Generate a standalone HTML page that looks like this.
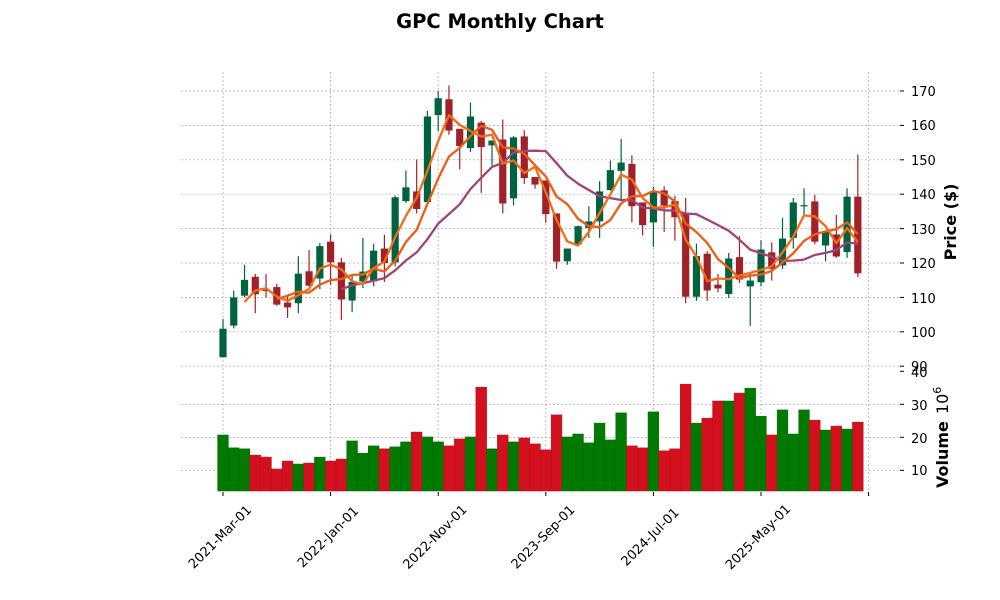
<!DOCTYPE html>
<html><head><meta charset="utf-8"><style>
html,body{margin:0;padding:0;background:#fff;}
svg{display:block;font-family:"DejaVu Sans","Liberation Sans",sans-serif;}
</style></head><body>
<svg id="s" width="1000" height="600" viewBox="0 0 1000 600" xmlns="http://www.w3.org/2000/svg">
<rect width="1000" height="600" fill="#fff"/>
<g id="grid"></g>
<g id="vol"></g>
<g id="cand"></g>
<g id="mav"></g>
<g id="ticks" stroke="#000" stroke-width="1"></g>
<text x="500" y="28" text-anchor="middle" font-size="19.5" font-weight="bold">GPC Monthly Chart</text>
<g font-size="13" fill="#000">
<text x="911" y="96">170</text><text x="911" y="130">160</text><text x="911" y="165">150</text>
<text x="911" y="199">140</text><text x="911" y="234">130</text><text x="911" y="268">120</text>
<text x="911" y="303">110</text><text x="911" y="337">100</text><text x="911" y="371">90</text>
<text x="911" y="377">40</text><text x="911" y="410">30</text><text x="911" y="443">20</text><text x="911" y="475">10</text>
</g>
<text transform="translate(956,222) rotate(-90)" text-anchor="middle" font-size="16" font-weight="bold">Price ($)</text>
<text transform="translate(948,488) rotate(-90)" font-size="16"><tspan font-weight="bold">Volume</tspan><tspan dx="7">10</tspan><tspan dy="-7" font-size="11">6</tspan></text>
<g font-size="13">
<text transform="translate(223,540) rotate(-45)" text-anchor="middle">2021-Mar-01</text>
<text transform="translate(331,540) rotate(-45)" text-anchor="middle">2022-Jan-01</text>
<text transform="translate(438,540) rotate(-45)" text-anchor="middle">2022-Nov-01</text>
<text transform="translate(546,540) rotate(-45)" text-anchor="middle">2023-Sep-01</text>
<text transform="translate(653,540) rotate(-45)" text-anchor="middle">2024-Jul-01</text>
<text transform="translate(761,540) rotate(-45)" text-anchor="middle">2025-May-01</text>
</g>
</svg>
<script>
var D=[[92.6,100.9,103.7,92.6],[101.8,110,112,101],[110.5,115.1,119.5,110],[116,110.9,116.8,105.4],[112.2,112,116.8,110],[113,107.9,113.9,107.6],[108.5,107.1,110.3,104],[108.3,116.9,122,105.4],[117.6,113.4,123.8,113.2],[115.5,124.9,125.8,112.4],[126.2,120.2,128.3,113.7],[120.2,109.4,121.5,103.5],[109.1,114.5,116.8,105.7],[114.6,117.5,127.3,112.7],[114.7,123.6,125.6,113.2],[124.2,120,128.2,114.5],[120.2,139.1,139.6,119],[138,142,146.9,137.5],[140.8,135.7,150.1,134.4],[137.7,162.6,164.2,137.5],[163,167.9,170,158.3],[167.6,158.5,171.6,157.3],[159,154,159,147.2],[153.4,162.6,166.6,152.3],[160.8,153.7,161.3,140.4],[154.2,155.6,155.6,148.3],[155.9,137.3,161.7,134.4],[138.8,156.5,156.9,136.7],[156.8,144.7,158.6,143],[145,142.8,145,141.6],[144,134.2,144,131.7],[134.4,120.4,134.4,118.3],[120.5,124.2,124.2,119.5],[125.4,130.7,130.9,125],[130.2,132.1,136.5,127.3],[132.1,140.8,143.8,127.3],[141.2,147,149.8,141],[146.8,149.2,156.1,138],[148.8,136.5,151.3,131.8],[137.6,131,137.6,128],[131.8,140.9,142.1,124.7],[141.1,136.7,142.3,129],[138,133.3,139.6,126.5],[134.4,110.2,138.9,108.3],[110.2,122,125.6,109],[122.7,112,123.4,109],[113.7,112.6,116.8,111.5],[111,121.3,122.9,109.8],[121.7,115.2,127.8,114.2],[113.2,114.9,117.3,101.7],[114.4,123.9,126.6,113.2],[123.1,118.3,126,114.9],[119.3,127.1,133.1,118.3],[127.3,137.6,138.9,124.2],[136.6,136.8,141.7,133.6],[137.9,126.2,139.8,125.5],[125.1,129.2,129.4,120.5],[128.3,121.9,134,121.5],[123.2,139.3,141.7,121.5],[139.3,117,151.6,115.9]];
var V=[20.7,16.8,16.5,14.6,14.0,10.4,12.8,11.9,12.2,14.0,12.8,13.4,18.9,15.2,17.4,16.5,17.1,18.6,21.6,20.1,18.6,17.4,19.5,20.1,35.2,16.5,20.7,18.6,19.8,18.0,16.2,26.8,20.1,21.0,18.3,24.3,19.2,27.4,17.4,16.8,27.7,15.9,16.5,36.1,24.3,25.8,31.0,31.0,33.4,34.9,26.4,20.7,28.3,21.0,28.3,25.2,22.2,23.4,22.5,24.6];
var NS="http://www.w3.org/2000/svg";
function el(g,t,a){var e=document.createElementNS(NS,t);for(var k in a)e.setAttribute(k,a[k]);document.getElementById(g).appendChild(e);return e;}
function X(i){return 223+i*10.76;}
function PY(p){return 91+(170-p)*3.44;}
function VY(v){return 470.3-(v-10)*3.3;}
var L=181,R=900;
for(var p=90;p<=170;p+=10)el("grid","line",{x1:L,x2:R,y1:PY(p),y2:PY(p),stroke:"#aaa","stroke-width":0.7,"stroke-dasharray":"2,2"});
for(var v=10;v<=30;v+=10)el("grid","line",{x1:L,x2:R,y1:VY(v),y2:VY(v),stroke:"#aaa","stroke-width":0.7,"stroke-dasharray":"2,2"});
for(var k=0;k<=6;k++){var x=X(k*10);el("grid","line",{x1:x,x2:x,y1:72,y2:491,stroke:"#aaa","stroke-width":0.7,"stroke-dasharray":"2,2"});
 el("ticks","line",{x1:x,x2:x,y1:492,y2:496});}
for(var p=90;p<=170;p+=10)el("ticks","line",{x1:R,x2:R+4,y1:PY(p),y2:PY(p)});
for(var v=10;v<=40;v+=10)el("ticks","line",{x1:R,x2:R+4,y1:VY(v),y2:VY(v)});
for(var i=0;i<60;i++){var up=D[i][1]>=D[i][0];var y=VY(V[i]);
 el("vol","rect",{x:X(i)-5.38,y:y,width:10.76,height:491-y,fill:up?"#027a02":"#d3101e",stroke:up?"#026a02":"#b80e1a","stroke-width":0.5});}
for(var i=0;i<60;i++){var d=D[i],up=d[1]>=d[0],c=up?"#006340":"#a02128",x=X(i);
 el("cand","line",{x1:x,x2:x,y1:PY(d[2]),y2:PY(d[3]),stroke:c,"stroke-width":1.2});
 var t=PY(Math.max(d[0],d[1])),b=PY(Math.min(d[0],d[1]));if(b-t<1.2)b=t+1.2;
 el("cand","rect",{x:x-3.6,y:t,width:7.2,height:b-t,fill:c});}
function ma(n,col){var pts=[];for(var i=n-1;i<60;i++){var s=0;for(var j=0;j<n;j++)s+=D[i-j][1];pts.push(X(i).toFixed(1)+","+PY(s/n).toFixed(1));}
 el("mav","polyline",{points:pts.join(" "),fill:"none",stroke:col,"stroke-width":2.3,"stroke-linejoin":"round"});}
ma(12,"#a04478");ma(6,"#ef5a14");ma(3,"#f26a1a");
</script>
</body></html>
